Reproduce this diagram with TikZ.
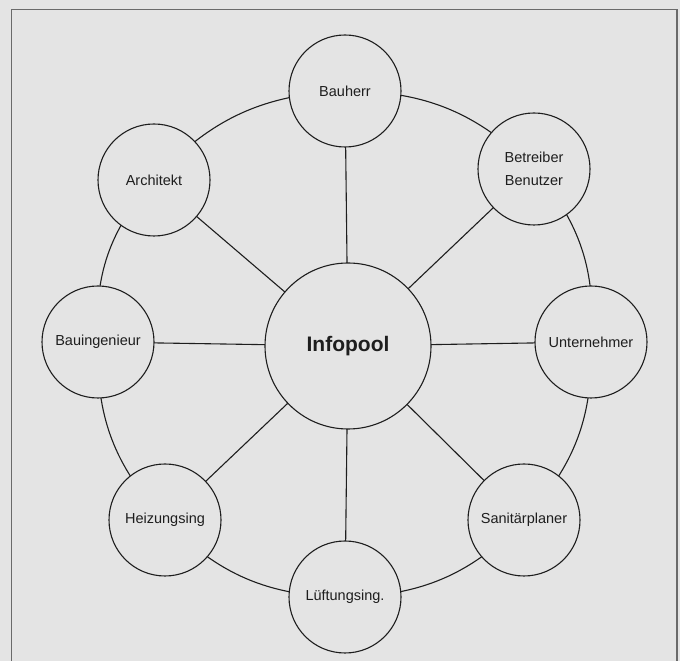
\documentclass[tikz,border=0pt]{standalone}
\usepackage{fontspec}
\setmainfont{Liberation Sans}
\usetikzlibrary{backgrounds}
\definecolor{paper}{HTML}{E4E4E4}
\definecolor{ink}{HTML}{1E1E1E}
\definecolor{framegray}{HTML}{6A6A6A}
\begin{document}
\begin{tikzpicture}[x=1pt,y=1pt,
  party/.style={circle,draw=ink,fill=paper,line width=1.1pt,minimum size=112pt,
    inner sep=0pt,text=ink,font=\fontsize{14.5}{23}\selectfont,align=center},
  hub/.style={circle,draw=ink,fill=paper,line width=1.1pt,minimum size=166pt,
    inner sep=0pt,text=ink,font=\fontsize{21}{25}\selectfont\bfseries},
  link/.style={draw=ink,line width=1.1pt},
  ringarc/.style={draw=ink,line width=1.1pt,bend right=22.5}]
  \useasboundingbox (0,0) rectangle (680,661);

  % central information pool and the parties around it
  \node[hub]   (pool)  at (348,315) {Infopool};
  \node[party] (bh)    at (345,570) {Bauherr};
  \node[party] (bb)    at (534,492) {Betreiber\\Benutzer};
  \node[party] (un)    at (591,319) {Unternehmer};
  \node[party] (sp)    at (524,141) {Sanitärplaner};
  \node[party] (lue)   at (345,64)  {Lüftungsing.};
  \node[party] (hz)    at (165,141) {Heizungsing};
  \node[party] (bi)    at (98,319)  {Bauingenieur};
  \node[party] (ar)    at (154,481) {Architekt};

  \begin{pgfonlayer}{background}
    \fill[paper] (0,0) rectangle (680,661);
    % outer frame, open at the bottom
    \draw[framegray,line width=1.6pt] (11.5,0) -- (11.5,651.5) -- (677,651.5) -- (677,0);
    % ring through all parties (counter-clockwise, bulging outwards)
    \draw[ringarc] (bh.center) to (ar.center);
    \draw[ringarc] (ar.center) to (bi.center);
    \draw[ringarc] (bi.center) to (hz.center);
    \draw[ringarc] (hz.center) to (lue.center);
    \draw[ringarc] (lue.center) to (sp.center);
    \draw[ringarc] (sp.center) to (un.center);
    \draw[ringarc] (un.center) to (bb.center);
    \draw[ringarc] (bb.center) to (bh.center);
    % spokes to the pool
    \foreach \p in {bh,bb,un,sp,lue,hz,bi,ar}
      \draw[link] (pool.center) -- (\p.center);
  \end{pgfonlayer}
\end{tikzpicture}
\end{document}
